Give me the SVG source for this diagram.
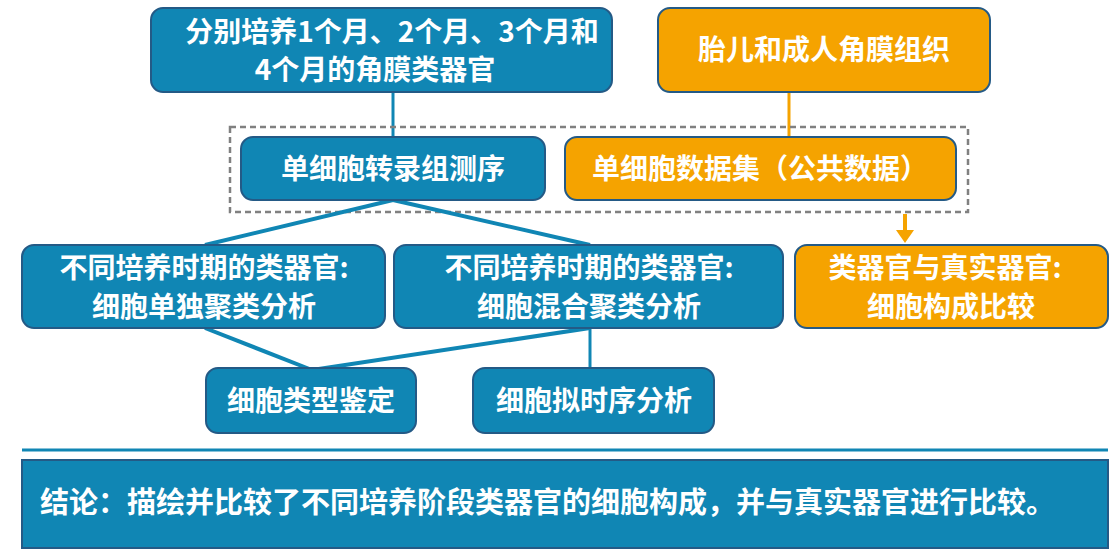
<svg xmlns="http://www.w3.org/2000/svg" width="1120" height="560" viewBox="0 0 1120 560">
<style>
.b{fill:#1086b4;stroke:#245a86;stroke-width:2}
.o{fill:#f5a300;stroke:#245a86;stroke-width:2}
.t{font-family:"Noto Sans CJK SC","Liberation Sans",sans-serif;font-weight:bold;font-size:28px;fill:#fff;text-anchor:middle}
.l{stroke:#1086b4;stroke-width:4;fill:none}
</style>
<rect width="1120" height="560" fill="#fff"/>
<g id="connectors">
<line class="l" x1="393" y1="92" x2="393" y2="137" style="stroke-width:3"/>
<line x1="789" y1="92" x2="789" y2="137" stroke="#f5a300" stroke-width="3"/>
<rect x="230" y="127" width="738" height="85" fill="none" stroke="#808080" stroke-width="2.5" stroke-dasharray="6,4"/>
<line class="l" x1="393" y1="200" x2="205" y2="245"/>
<line class="l" x1="393" y1="200" x2="590" y2="245"/>
<line class="l" x1="205" y1="328" x2="312" y2="370"/>
<line class="l" x1="590" y1="328" x2="312" y2="370"/>
<line class="l" x1="590" y1="328" x2="590" y2="370" style="stroke-width:3"/>
<line x1="905" y1="214" x2="905" y2="232" stroke="#f5a300" stroke-width="4"/>
<polygon points="896,230 914,230 905,243" fill="#f5a300"/>
<line x1="22" y1="450" x2="1108" y2="450" stroke="#1086b4" stroke-width="3"/>
</g>
<g id="n1"><rect class="b" x="151" y="8" width="461" height="84" rx="12"/><text class="t" x="392" y="42">分别培养1个月、2个月、3个月和</text><text class="t" x="375" y="80">4个月的角膜类器官</text></g>
<g id="n2"><rect class="o" x="658" y="8" width="332" height="84" rx="12"/><text class="t" x="824" y="60">胎儿和成人角膜组织</text></g>
<g id="n3"><rect class="b" x="241" y="137" width="304" height="63" rx="12"/><text class="t" x="393" y="179">单细胞转录组测序</text></g>
<g id="n4"><rect class="o" x="565" y="137" width="391" height="63" rx="12"/><text class="t" x="760" y="179">单细胞数据集（公共数据）</text></g>
<g id="n5"><rect class="b" x="22" y="245" width="363" height="83" rx="12"/><text class="t" x="204" y="278">不同培养时期的类器官:</text><text class="t" x="204" y="317">细胞单独聚类分析</text></g>
<g id="n6"><rect class="b" x="394" y="245" width="389" height="83" rx="12"/><text class="t" x="589" y="278">不同培养时期的类器官:</text><text class="t" x="589" y="317">细胞混合聚类分析</text></g>
<g id="n7"><rect class="o" x="795" y="245" width="313" height="83" rx="12"/><text class="t" x="945" y="278">类器官与真实器官:</text><text class="t" x="951" y="317">细胞构成比较</text></g>
<g id="n8"><rect class="b" x="206" y="368" width="210" height="65" rx="12"/><text class="t" x="311" y="411">细胞类型鉴定</text></g>
<g id="n9"><rect class="b" x="473" y="368" width="241" height="65" rx="12"/><text class="t" x="594" y="411">细胞拟时序分析</text></g>
<g id="n10"><rect x="22" y="460" width="1086" height="88" fill="#1086b4" stroke="#245a86" stroke-width="2"/><text class="t" x="40" y="513" style="text-anchor:start;font-size:29px">结论：描绘并比较了不同培养阶段类器官的细胞构成，并与真实器官进行比较。</text></g>
</svg>
